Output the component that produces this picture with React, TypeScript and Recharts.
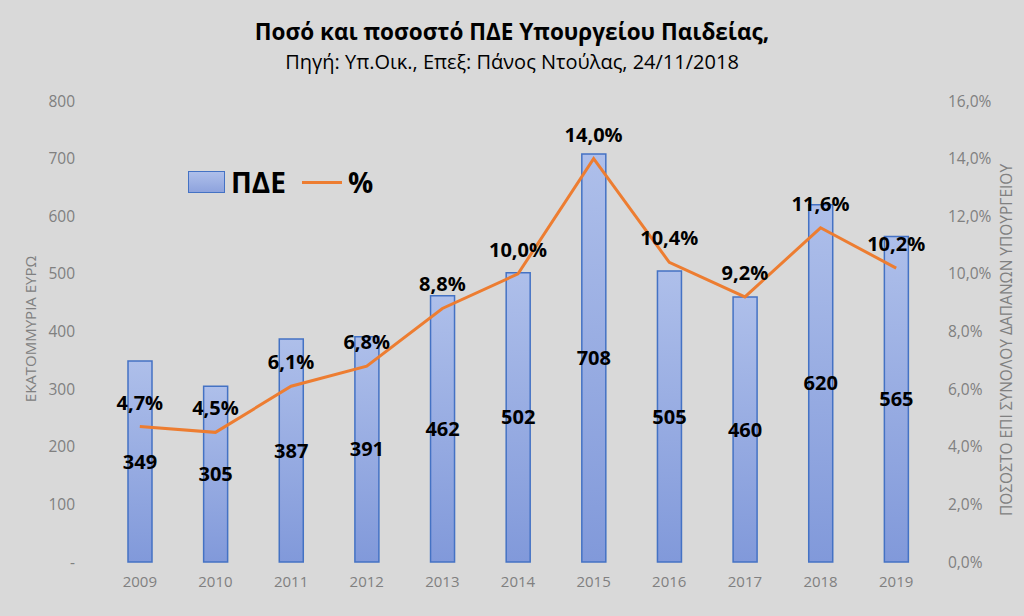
import React from 'react';
import { ComposedChart, Bar, Line, XAxis, YAxis, LabelList } from 'recharts';

const years = ['2009', '2010', '2011', '2012', '2013', '2014', '2015', '2016', '2017', '2018', '2019'];
const amounts = [349, 305, 387, 391, 462, 502, 708, 505, 460, 620, 565];
const percents = [4.7, 4.5, 6.1, 6.8, 8.8, 10.0, 14.0, 10.4, 9.2, 11.6, 10.2];
const leftTicks = [0, 100, 200, 300, 400, 500, 600, 700, 800];
const rightTicks = [0, 2, 4, 6, 8, 10, 12, 14, 16];

const data = years.map((y, i) => ({ year: y, pde: amounts[i], pct: percents[i] }));

const FONT = '"Open Sans", "Noto Sans", sans-serif';
const fmtPct = (v: number) => v.toFixed(1).replace('.', ',') + '%';

export default function App() {
  return (
    <div style={{ position: 'absolute', left: 0, top: 0, width: 1024, height: 616, background: '#d9d9d9', fontFamily: FONT }}>
      <div style={{ position: 'absolute', top: 17, left: 0, width: 1024, textAlign: 'center', fontWeight: 700, fontSize: 22.5, color: '#000', lineHeight: '30px' }}>
        Ποσό και ποσοστό ΠΔΕ Υπουργείου Παιδείας,
      </div>
      <div style={{ position: 'absolute', top: 48, left: 0, width: 1024, textAlign: 'center', fontSize: 20, color: '#000', lineHeight: '28px' }}>
        Πηγή: Υπ.Οικ., Επεξ: Πάνος Ντούλας, 24/11/2018
      </div>
      <div style={{ position: 'absolute', left: 30, top: 329, transform: 'translate(-50%, -50%) rotate(-90deg)', whiteSpace: 'nowrap', fontSize: 15, color: '#808080' }}>
        ΕΚΑΤΟΜΜΥΡΙΑ ΕΥΡΩ
      </div>
      <div style={{ position: 'absolute', left: 1006, top: 340, transform: 'translate(-50%, -50%) rotate(-90deg)', whiteSpace: 'nowrap', fontSize: 15.5, color: '#808080' }}>
        ΠΟΣΟΣΤΟ ΕΠΙ ΣΥΝΟΛΟΥ ΔΑΠΑΝΩΝ ΥΠΟΥΡΓΕΙΟΥ
      </div>
      <ComposedChart width={1024} height={616} data={data} margin={{ top: 101, right: 0, bottom: 24, left: 0 }} style={{ position: 'absolute', left: 0, top: 0 }}>
        <defs>
          <linearGradient id="barGrad" x1="0" y1="0" x2="0" y2="1">
            <stop offset="0%" stopColor="#aebfea" />
            <stop offset="100%" stopColor="#8199da" />
          </linearGradient>
        </defs>
        <XAxis dataKey="year" height={30} axisLine={false} tickLine={false} tickSize={0} tickMargin={14} tick={{ fill: '#808080', fontSize: 15, fontFamily: FONT }} />
        <YAxis yAxisId="left" orientation="left" width={102} domain={[0, 800]} ticks={leftTicks} axisLine={false} tickLine={false} tickSize={0} tickMargin={27}
          tickFormatter={(v: number) => (v === 0 ? '-' : String(v))} tick={{ fill: '#808080', fontSize: 15.5, fontFamily: FONT }} />
        <YAxis yAxisId="right" orientation="right" width={90} domain={[0, 16]} ticks={rightTicks} axisLine={false} tickLine={false} tickSize={0} tickMargin={14}
          tickFormatter={fmtPct} tick={{ fill: '#808080', fontSize: 15.5, fontFamily: FONT }} />
        <Bar yAxisId="left" dataKey="pde" name="ΠΔΕ" barSize={24} fill="url(#barGrad)" stroke="#4472c4" strokeWidth={1.5} isAnimationActive={false}>
          <LabelList dataKey="pde" position="center" fill="#000" fontSize={20} fontWeight={700} fontFamily={FONT} />
        </Bar>
        <Line yAxisId="right" dataKey="pct" name="%" type="linear" stroke="#ed7d31" strokeWidth={3} dot={false} isAnimationActive={false}>
          <LabelList dataKey="pct" position="top" offset={17} formatter={(v: number) => fmtPct(v)} fill="#000" fontSize={20} fontWeight={700} fontFamily={FONT} />
        </Line>
      </ComposedChart>
      <div style={{ position: 'absolute', left: 188, top: 164, display: 'flex', alignItems: 'center', fontWeight: 700, fontSize: 28, color: '#000', lineHeight: '36px' }}>
        <div style={{ width: 35, height: 20, background: 'linear-gradient(#aebfea, #8ea3dd)', border: '1.5px solid #4472c4', marginRight: 6 }} />
        <span>ΠΔΕ</span>
        <div style={{ width: 40, height: 3, background: '#ed7d31', marginLeft: 16, marginRight: 6 }} />
        <span>%</span>
      </div>
    </div>
  );
}
